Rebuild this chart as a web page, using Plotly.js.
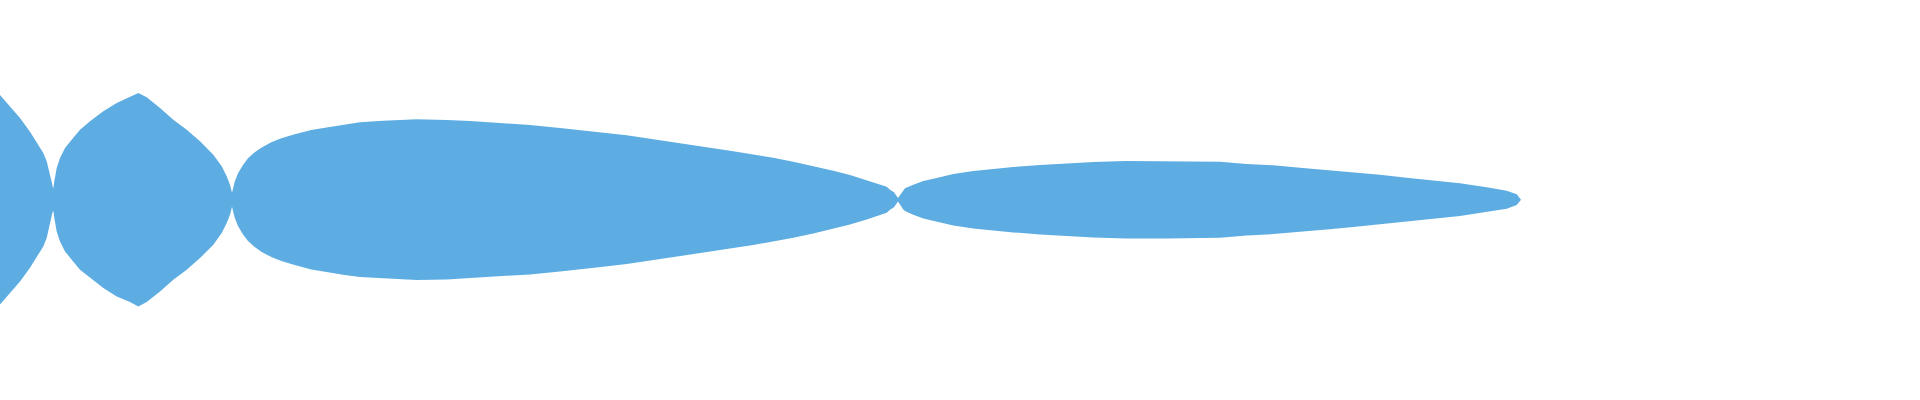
<!DOCTYPE html>
<html>
<head>
<meta charset="utf-8">
<script src="https://cdn.plot.ly/plotly-3.0.1.min.js"></script>
<style>
  html, body { margin: 0; padding: 0; background: #ffffff; }
  #chart { width: 1920px; height: 400px; }
</style>
</head>
<body>
<div id="chart"></div>
<script>
// Stream position along the axis and its half-thickness at that position.
const position = [
  0, 10, 20, 30, 40, 43.3, 46.7, 50, 52.3, 53.3,
  54.3, 56.7, 60, 65, 71.7, 80, 90, 103.3, 116.7, 130, 138.3,
  146.7, 160, 173.3, 186.7, 200, 213.3, 221.7, 226.7, 230, 232,
  234.7, 238, 243, 248, 254.7, 261.3, 271.3, 281.3, 294.7, 311.3, 328, 344.7, 360,
  383.3, 416.7, 446.7, 470, 503.3, 530, 560, 580, 603.3, 626.7, 650, 673.3,
  693.3, 713.3, 733.3, 753.3, 773.3, 793.3, 813.3, 833.3, 850, 866.7, 880,
  886.7, 890, 894, 898,
  903.3, 905, 913.3, 923.3, 936.7, 953.3, 973.3, 993.3, 1013.3, 1040, 1066.7,
  1093.3, 1126.7, 1166.7, 1220, 1246.7, 1273.3, 1300, 1326.7, 1353.3, 1380,
  1406.7, 1433.3, 1460, 1486.7, 1506.7, 1516.7, 1520, 1521
];
const halfWidth = [
  104.7, 93, 81.7, 68, 51.7, 46.7, 38.4, 25, 13.4, 11,
  18.4, 31.7, 41.7, 51.7, 60, 70, 78.4, 88.4, 96.7, 102.4, 106.7,
  102.4, 91.7, 80, 70, 58.4, 45, 33.4, 23.4, 15, 7,
  18, 26.4, 34.7, 41.4, 47.4, 52, 57.4, 61.4, 65.4, 69.7, 72.4, 75.4, 77.4,
  79, 80.4, 79.7, 78.7, 76.4, 74.7, 71.7, 69.7, 67, 64.4, 61, 57.7,
  54.7, 51.4, 48.4, 45.4, 42, 38, 33.7, 29, 24.7, 19.7, 15.5,
  13, 10, 7.5, 1.7,
  9.7, 11.4, 15, 18.7, 21.7, 25.7, 28.7, 31, 32.7, 34.7, 36.4,
  37.7, 38.7, 38.7, 38, 35.7, 34.4, 32, 29.7, 27.4, 25,
  22, 19, 16.4, 12.4, 9, 5.4, 1.4, 0
];

const STREAM_COLOR = "#5DADE2";

// Outline: upper edge left-to-right, then mirrored lower edge back.
const outlineX = position.concat(position.slice().reverse());
const outlineY = halfWidth.concat(halfWidth.map(v => -v).reverse());

const data = [{
  type: "scatter",
  mode: "lines",
  x: outlineX,
  y: outlineY,
  fill: "toself",
  fillcolor: STREAM_COLOR,
  line: { width: 0, color: STREAM_COLOR },
  hoverinfo: "skip",
  showlegend: false,
}];

const layout = {
  width: 1920,
  height: 400,
  paper_bgcolor: "#ffffff",
  plot_bgcolor:  "#ffffff",
  margin: { l: 0, r: 0, t: 0, b: 0 },
  xaxis: { range: [0, 1920], visible: false, fixedrange: true },
  yaxis: { range: [-200.3, 199.7], visible: false, fixedrange: true },
  showlegend: false,
};

Plotly.newPlot("chart", data, layout, { displayModeBar: false, staticPlot: true });
</script>
</body>
</html>
